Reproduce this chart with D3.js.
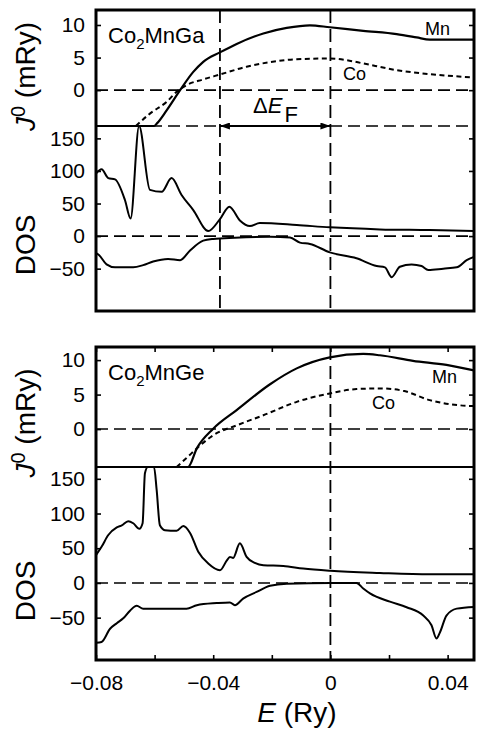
<!DOCTYPE html>
<html><head><meta charset="utf-8">
<script src="https://cdn.jsdelivr.net/npm/d3@7"></script>
<style>body{margin:0;background:#fff} text{font-family:"Liberation Sans",Arial,Helvetica,sans-serif;fill:#000}</style>
</head><body><svg id="c" width="477" height="730"></svg>
<script>
// ---------- DATA ----------
// x-axis
const xTicks = [-0.08, -0.06, -0.04, -0.02, 0, 0.02, 0.04];
const xTickLabels = ["−0.08", "", "−0.04", "", "0", "", "0.04"];
const jTicks = [0, 5, 10];
const dosTicks = [-50, 0, 50, 100, 150];
const gaFermiShift = -0.0377; // shifted Fermi level for Co2MnGa

// Co2MnGa : J0 of Mn
const gaMnE = [-0.0800, -0.0602, -0.0592, -0.0559, -0.0513, -0.0468, -0.0434, -0.0377, -0.0320, -0.0229, -0.0149, -0.0070, -0.0002, 0.0112, 0.0226, 0.0294, 0.0339, 0.0490];
const gaMnJ = [-7, -5.6, -5.1, -3.1, 0, 2.8, 4.35, 5.8, 7.1, 8.7, 9.55, 9.95, 9.65, 9.1, 8.6, 8.1, 7.75, 7.75];
// Co2MnGa : J0 of Co
const gaCoE = [-0.0664, -0.0616, -0.0559, -0.0525, -0.0491, -0.0434, -0.0377, -0.0286, -0.0206, -0.0115, -0.0002, 0.0055, 0.0112, 0.0226, 0.0339, 0.0490];
const gaCoJ = [-5.5, -3.6, -1.8, -0.26, 0.77, 1.65, 2.4, 3.6, 4.3, 4.75, 4.86, 4.6, 4.1, 3.07, 2.45, 1.95];
// Co2MnGa : DOS majority
const gaUpE = [-0.0800, -0.0781, -0.0758, -0.0735, -0.0701, -0.0682, -0.0653, -0.0616, -0.0576, -0.0542, -0.0508, -0.0468, -0.0417, -0.0377, -0.0345, -0.0309, -0.0275, -0.0241, -0.0115, -0.0002, 0.0169, 0.0339, 0.0490];
const gaUpD = [96, 102.5, 89, 87, 55, 27, 175, 71, 68, 89, 63, 40, 7.7, 26, 45, 24, 15.4, 20, 17, 13.4, 10.3, 9.2, 7.7];
// Co2MnGa : DOS minority
const gaDnE = [-0.0800, -0.0790, -0.0764, -0.0735, -0.0673, -0.0639, -0.0605, -0.0554, -0.0513, -0.0479, -0.0434, -0.0400, -0.0326, -0.0206, -0.0138, -0.0104, -0.0070, -0.0002, 0.0089, 0.0158, 0.0186, 0.0209, 0.0237, 0.0277, 0.0311, 0.0334, 0.0385, 0.0431, 0.0465, 0.0490];
const gaDnD = [-26, -29, -43.5, -48, -48, -44.6, -39, -35, -37, -22, -7, -4.3, -2.5, -1, -2, -10, -12, -25, -34, -46, -48, -63, -47, -43.5, -46, -52, -50, -48, -37, -32];

// Co2MnGe : J0 of Mn
const geMnE = [-0.0800, -0.0486, -0.0456, -0.0400, -0.0320, -0.0206, -0.0115, -0.0002, 0.0112, 0.0169, 0.0282, 0.0396, 0.0490];
const geMnJ = [-7, -5.5, -2.8, 0.05, 2.75, 6.5, 8.8, 10.4, 10.9, 10.7, 9.9, 9.3, 8.5];
// Co2MnGe : J0 of Co
const geCoE = [-0.0525, -0.0491, -0.0456, -0.0400, -0.0316, -0.0229, -0.0115, -0.0002, 0.0089, 0.0169, 0.0248, 0.0339, 0.0408, 0.0490];
const geCoJ = [-5.5, -4.2, -2.8, -0.9, 0.6, 2.0, 3.95, 5.17, 5.8, 5.9, 5.55, 4.2, 3.6, 3.33];
// Co2MnGe : DOS majority
const geUpE = [-0.0800, -0.0781, -0.0758, -0.0729, -0.0712, -0.0690, -0.0673, -0.0652, -0.0641, -0.0633, -0.0623, -0.0602, -0.0593, -0.0582, -0.0565, -0.0525, -0.0502, -0.0479, -0.0451, -0.0417, -0.0377, -0.0354, -0.0343, -0.0332, -0.0309, -0.0286, -0.0258, -0.0229, -0.0161, -0.0093, 0.0000, 0.0169, 0.0339, 0.0490];
const geUpD = [40, 52, 69, 80, 83, 89, 86, 78, 86, 158, 172, 172, 134, 83, 76, 75, 82, 72, 45, 28, 18.3, 32, 37.5, 36, 57, 37.5, 29, 25.5, 24.5, 20.7, 17.5, 14.4, 12.5, 12.5];
// Co2MnGe : DOS minority
const geDnE = [-0.0800, -0.0781, -0.0752, -0.0729, -0.0707, -0.0684, -0.0661, -0.0639, -0.0491, -0.0456, -0.0388, -0.0343, -0.0326, -0.0298, -0.0252, -0.0206, -0.0149, 0.0000, 0.0089, 0.0112, 0.0135, 0.0203, 0.0260, 0.0317, 0.0345, 0.0362, 0.0374, 0.0396, 0.0431, 0.0490];
const geDnD = [-86, -85, -66, -58, -51, -40, -33, -37, -37, -32, -29, -28, -32, -22.5, -13, -4, -1, 0, 0, -8, -15, -27, -35, -47, -61, -80, -71, -47, -37, -34.5];

// ---------- LAYOUT ----------
const svg = d3.select("#c");
const X0 = 96, X1 = 474;
const x = d3.scaleLinear().domain([-0.08, 0.049]).range([X0, X1]);
const FONT = '"Liberation Sans",Arial,Helvetica,sans-serif';

const defs = svg.append("defs");
defs.append("marker").attr("id", "ah").attr("viewBox", "0 0 10 7")
  .attr("markerUnits", "userSpaceOnUse").attr("markerWidth", 11).attr("markerHeight", 7)
  .attr("refX", 10).attr("refY", 3.5).attr("orient", "auto-start-reverse")
  .append("path").attr("d", "M0,0L10,3.5L0,7Z").attr("fill", "#000");

const zip = (a, b) => a.map((v, i) => [v, b[i]]);

const panels = [
  { top: 10, div: 126, bottom: 311, jDom: [-5.5, 12.3], dDom: [-115, 169],
    name: ["Co", "2", "MnGa"], nameY: 43,
    mn: zip(gaMnE, gaMnJ), co: zip(gaCoE, gaCoJ), up: zip(gaUpE, gaUpD), dn: zip(gaDnE, gaDnD),
    vlines: [gaFermiShift, 0], dividerDashed: true, arrow: true, xAxis: false,
    mnLab: [425, 35], coLab: [343, 80], jLabY: 76.5, dLabY: 245 },
  { top: 347, div: 467, bottom: 660, jDom: [-5.5, 11.9], dDom: [-111, 167],
    name: ["Co", "2", "MnGe"], nameY: 380,
    mn: zip(geMnE, geMnJ), co: zip(geCoE, geCoJ), up: zip(geUpE, geUpD), dn: zip(geDnE, geDnD),
    vlines: [0], dividerDashed: false, arrow: false, xAxis: true,
    mnLab: [432, 383], coLab: [372, 409], jLabY: 423, dLabY: 591 }
];

panels.forEach(p => {
  const g = svg.append("g");
  const yJ = d3.scaleLinear().domain(p.jDom).range([p.div, p.top]).clamp(true);
  const yD = d3.scaleLinear().domain(p.dDom).range([p.bottom, p.div]).clamp(true);

  const dash = "12,6";
  // zero lines
  [[yJ(0)], [yD(0)]].forEach(([yy]) => {
    g.append("line").attr("x1", X0).attr("x2", X1).attr("y1", yy).attr("y2", yy)
      .attr("stroke", "#000").attr("stroke-width", 1.6).attr("stroke-dasharray", dash);
  });
  // vertical dashed lines
  p.vlines.forEach(v => {
    g.append("line").attr("x1", x(v)).attr("x2", x(v)).attr("y1", p.top).attr("y2", p.bottom)
      .attr("stroke", "#000").attr("stroke-width", 1.8).attr("stroke-dasharray", "13,6");
  });
  // divider between J0 and DOS regions
  g.append("line").attr("x1", X0).attr("x2", X1).attr("y1", p.div).attr("y2", p.div)
    .attr("stroke", "#000").attr("stroke-width", p.dividerDashed ? 1.6 : 2)
    .attr("stroke-dasharray", p.dividerDashed ? dash : null);
  if (p.arrow) {
    g.append("line").attr("x1", x(gaFermiShift)).attr("x2", x(0)).attr("y1", p.div).attr("y2", p.div)
      .attr("stroke", "#000").attr("stroke-width", 2)
      .attr("marker-start", "url(#ah)").attr("marker-end", "url(#ah)");
    const t = g.append("text").attr("x", 253).attr("y", 113).attr("font-size", 22);
    t.append("tspan").text("Δ");
    t.append("tspan").attr("font-style", "italic").text("E");
    t.append("tspan").attr("dx", 2).attr("dy", 9).text("F");
  }

  const lineJ = d3.line().x(d => x(d[0])).y(d => yJ(d[1])).curve(d3.curveMonotoneX);
  const lineD = d3.line().x(d => x(d[0])).y(d => yD(d[1])).curve(d3.curveMonotoneX);

  g.append("path").attr("d", lineD(p.up)).attr("fill", "none").attr("stroke", "#000").attr("stroke-width", 2).attr("stroke-linejoin", "round");
  g.append("path").attr("d", lineD(p.dn)).attr("fill", "none").attr("stroke", "#000").attr("stroke-width", 2).attr("stroke-linejoin", "round");
  g.append("path").attr("d", lineJ(p.co)).attr("fill", "none").attr("stroke", "#000").attr("stroke-width", 2).attr("stroke-dasharray", "5,3.5");
  g.append("path").attr("d", lineJ(p.mn)).attr("fill", "none").attr("stroke", "#000").attr("stroke-width", 2.2).attr("stroke-linejoin", "round");

  // y axes
  const styleAxis = sel => {
    sel.select(".domain").remove();
    sel.attr("font-family", FONT).attr("font-size", 21);
    sel.selectAll(".tick line").attr("stroke-width", 1.6);
    sel.selectAll(".tick text").attr("fill", "#000");
  };
  g.append("g").attr("transform", `translate(${X0},0)`)
    .call(d3.axisLeft(yJ).tickValues(jTicks).tickSize(-5).tickPadding(11).tickFormat(d3.format("d"))).call(styleAxis);
  g.append("g").attr("transform", `translate(${X0},0)`)
    .call(d3.axisLeft(yD).tickValues(dosTicks).tickSize(-5).tickPadding(11).tickFormat(d3.format("d"))).call(styleAxis);
  g.append("g").attr("transform", `translate(${X1},0)`)
    .call(d3.axisRight(yJ).tickValues(jTicks).tickSize(-5).tickFormat("")).call(styleAxis);
  g.append("g").attr("transform", `translate(${X1},0)`)
    .call(d3.axisRight(yD).tickValues(dosTicks).tickSize(-5).tickFormat("")).call(styleAxis);

  if (p.xAxis) {
    g.append("g").attr("transform", `translate(0,${p.bottom})`)
      .call(d3.axisBottom(x).tickValues(xTicks).tickSize(-5).tickPadding(15).tickFormat((d, i) => xTickLabels[i])).call(styleAxis);
    g.append("g").attr("transform", `translate(0,${p.top})`)
      .call(d3.axisTop(x).tickValues(xTicks).tickSize(-5).tickFormat("")).call(styleAxis);
  }

  // frame
  g.append("rect").attr("x", X0).attr("y", p.top).attr("width", X1 - X0).attr("height", p.bottom - p.top)
    .attr("fill", "none").attr("stroke", "#000").attr("stroke-width", 3);

  // labels
  const nt = g.append("text").attr("x", 108).attr("y", p.nameY).attr("font-size", 22);
  nt.append("tspan").text(p.name[0]);
  nt.append("tspan").attr("dy", 6).attr("font-size", 15).text(p.name[1]);
  nt.append("tspan").attr("dy", -6).text(p.name[2]);
  g.append("text").attr("x", p.mnLab[0]).attr("y", p.mnLab[1]).attr("font-size", 18).text("Mn");
  g.append("text").attr("x", p.coLab[0]).attr("y", p.coLab[1]).attr("font-size", 18).text("Co");

  const jl = g.append("text").attr("transform", `translate(35,${p.jLabY}) rotate(-90)`)
    .attr("text-anchor", "middle").attr("font-size", 28);
  jl.append("tspan").attr("font-style", "italic").text("J");
  jl.append("tspan").attr("dy", -10).attr("font-size", 20).text("0");
  jl.append("tspan").attr("dy", 10).text(" (mRy)");
  g.append("text").attr("transform", `translate(35,${p.dLabY}) rotate(-90)`)
    .attr("text-anchor", "middle").attr("font-size", 28).text("DOS");
});

// x-axis title
const xt = svg.append("text").attr("x", 297).attr("y", 722).attr("text-anchor", "middle").attr("font-size", 28);
xt.append("tspan").attr("font-style", "italic").text("E");
xt.append("tspan").text(" (Ry)");
</script>
</body></html>
